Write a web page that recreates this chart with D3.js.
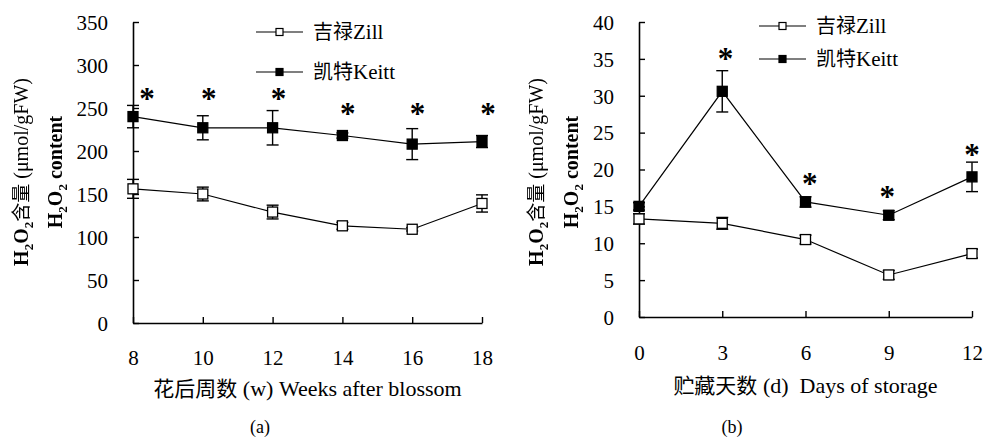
<!DOCTYPE html>
<html>
<head>
<meta charset="utf-8">
<script src="https://cdn.jsdelivr.net/npm/d3@7"></script>
<style>
  html, body { margin: 0; padding: 0; background: #fff; }
  svg { display: block; }
  text { font-family: "Liberation Serif", "Times New Roman", serif; fill: #000; white-space: pre; }
  .cjk { font-family: "Noto Sans CJK SC", sans-serif; }
  .rot { filter: grayscale(100%); }
</style>
</head>
<body>
<svg id="chart" width="986" height="437"></svg>
<script>
// ---------- Data ----------
const seriesNames = ["吉禄Zill", "凯特Keitt"];

// Panel (a): weeks after blossom
const weeks = [8, 10, 12, 14, 16, 18];
const zillA = [156, 150, 129, 113, 109, 139];
const zillAErr = [11, 8, 8, 4, 2, 10];
const keittA = [240, 227, 227, 218, 208, 211];
const keittAErr = [13, 14, 20, 3, 18, 7];
const starXA = [8.4, 10.17, 12.17, 14.15, 16.15, 18.17];
const starYA = [263, 263, 263, 245, 245, 245];
const yTicksA = [0, 50, 100, 150, 200, 250, 300, 350];

// Panel (b): days of storage
const days = [0, 3, 6, 9, 12];
const zillB = [13.3, 12.7, 10.5, 5.7, 8.6];
const zillBErr = [0.7, 0.8, 0.6, 0.6, 0.6];
const keittB = [15.0, 30.6, 15.6, 13.8, 19.0];
const keittBErr = [0.5, 2.8, 0.7, 0.6, 2.0];
const starXB = [3.12, 6.15, 8.95, 12.0];
const starYB = [35.3, 18.3, 16.5, 22.3];
const yTicksB = [0, 5, 10, 15, 20, 25, 30, 35, 40];

const svg = d3.select("#chart");

function panel(cfg) {
  const g = svg.append("g");
  const x = d3.scaleLinear().domain(cfg.xDomain).range(cfg.xRange);
  const y = d3.scaleLinear().domain(cfg.yDomain).range(cfg.yRange);

  // axes (ticks inward)
  const xAxis = d3.axisBottom(x).tickValues(cfg.xTicks).tickSize(-6).tickSizeOuter(0).tickFormat(d3.format("d"));
  const yAxis = d3.axisLeft(y).tickValues(cfg.yTicks).tickSize(-6).tickSizeOuter(0).tickFormat(d3.format("d"));

  const gx = g.append("g").attr("transform", `translate(0,${cfg.yRange[0]})`).call(xAxis);
  const gy = g.append("g").attr("transform", `translate(${cfg.xRange[0]},0)`).call(yAxis);
  [gx, gy].forEach(a => {
    a.attr("font-family", null).attr("font-size", null);
    a.select(".domain").attr("stroke", "#000").attr("stroke-width", 1.6);
    a.selectAll(".tick line").attr("stroke", "#000").attr("stroke-width", 1.4);
    a.selectAll(".tick text").attr("font-size", 21).attr("fill", "#000");
  });
  gx.selectAll(".tick text").attr("y", cfg.xLabelDy).attr("dy", "0.35em");
  gy.selectAll(".tick text").attr("x", -25).attr("dy", "0.35em");

  const line = d3.line().x(d => x(d.x)).y(d => y(d.y));

  cfg.series.forEach(s => {
    const pts = s.values.map((v, i) => ({ x: cfg.xs[i], y: v, e: s.errs[i] }));
    g.append("path").datum(pts).attr("d", line)
      .attr("fill", "none").attr("stroke", "#000").attr("stroke-width", 1.2);
    const eb = g.append("g").attr("stroke", "#000").attr("stroke-width", 1.4);
    eb.selectAll("line.v").data(pts).join("line").attr("class", "v")
      .attr("x1", d => x(d.x)).attr("x2", d => x(d.x))
      .attr("y1", d => y(d.y + d.e)).attr("y2", d => y(d.y - d.e));
    eb.selectAll("line.t").data(pts).join("line").attr("class", "t")
      .attr("x1", d => x(d.x) - 6).attr("x2", d => x(d.x) + 6)
      .attr("y1", d => y(d.y + d.e)).attr("y2", d => y(d.y + d.e));
    eb.selectAll("line.b").data(pts).join("line").attr("class", "b")
      .attr("x1", d => x(d.x) - 6).attr("x2", d => x(d.x) + 6)
      .attr("y1", d => y(d.y - d.e)).attr("y2", d => y(d.y - d.e));
    g.selectAll(null).data(pts).join("rect")
      .attr("x", d => x(d.x) - 5).attr("y", d => y(d.y) - 5)
      .attr("width", 10).attr("height", 10)
      .attr("fill", s.filled ? "#000" : "#fff")
      .attr("stroke", "#000").attr("stroke-width", 1.3);
  });

  // significance stars
  g.selectAll(null).data(cfg.starX.map((sx, i) => ({ x: sx, y: cfg.starY[i] }))).join("text")
    .attr("x", d => x(d.x)).attr("y", d => y(d.y) + 12)
    .attr("text-anchor", "middle")
    .attr("font-weight", "bold").attr("font-size", 31)
    .text("*");

  // legend
  cfg.series.forEach((s, i) => {
    const ly = cfg.legend.y + i * cfg.legend.dy;
    const lx = cfg.legend.x;
    g.append("line").attr("x1", lx).attr("x2", lx + 47).attr("y1", ly).attr("y2", ly)
      .attr("stroke", "#000").attr("stroke-width", 1.2);
    g.append("rect").attr("x", lx + 20).attr("y", ly - 3.5).attr("width", 7).attr("height", 7)
      .attr("fill", s.filled ? "#000" : "#fff").attr("stroke", "#000").attr("stroke-width", 1.2);
    const t = g.append("text").attr("x", lx + 57).attr("y", ly).attr("dy", "0.35em").attr("font-size", 21);
    t.append("tspan").attr("class", "cjk").attr("font-size", 20).text(s.name.replace(/[A-Za-z]+/, ""));
    t.append("tspan").text(s.name.match(/[A-Za-z]+/)[0]);
  });

  // y title (two lines, rotated)
  const yt1 = g.append("text").attr("class", "rot").attr("transform", `translate(${cfg.yTitleX[0]},${cfg.yTitleY}) rotate(-90)`)
    .attr("text-anchor", "middle").attr("dy", "0.35em").attr("font-size", 20);
  yt1.append("tspan").attr("font-weight", "bold").text("H");
  yt1.append("tspan").attr("font-weight", "bold").attr("font-size", 13).attr("dy", 5).text("2");
  yt1.append("tspan").attr("font-weight", "bold").attr("dy", -5).text("O");
  yt1.append("tspan").attr("font-weight", "bold").attr("font-size", 13).attr("dy", 5).text("2");
  yt1.append("tspan").attr("class", "cjk").attr("font-size", 19).attr("dy", -5).text("含量");
  yt1.append("tspan").text(" (μmol/gFW)");

  const yt2 = g.append("text").attr("class", "rot").attr("transform", `translate(${cfg.yTitleX[1]},${cfg.yTitleY}) rotate(-90)`)
    .attr("text-anchor", "middle").attr("dy", "0.35em").attr("font-size", 20).attr("font-weight", "bold");
  yt2.append("tspan").text("H");
  yt2.append("tspan").attr("font-size", 13).attr("dy", 5).text("2");
  yt2.append("tspan").attr("dy", -5).text("O");
  yt2.append("tspan").attr("font-size", 13).attr("dy", 5).text("2");
  yt2.append("tspan").attr("dy", -5).text(" content");

  // x title
  const xt = g.append("text").attr("x", (cfg.xRange[0] + cfg.xRange[1]) / 2).attr("y", cfg.xTitleY)
    .attr("text-anchor", "middle").attr("dy", "0.35em").attr("font-size", 22);
  xt.append("tspan").attr("class", "cjk").attr("font-size", 21).text(cfg.xTitleCn);
  xt.append("tspan").text(cfg.xTitleEn);

  // panel label
  g.append("text").attr("x", cfg.panelLabelX).attr("y", 427).attr("dy", "0.35em")
    .attr("text-anchor", "middle").attr("font-size", 18).text(cfg.panelLabel);
}

panel({
  xs: weeks, xDomain: [8, 18], xRange: [133, 482], xTicks: weeks,
  yDomain: [0, 350], yRange: [323, 22], yTicks: yTicksA,
  xLabelDy: 35,
  series: [
    { name: seriesNames[0], values: zillA, errs: zillAErr, filled: false },
    { name: seriesNames[1], values: keittA, errs: keittAErr, filled: true }
  ],
  starX: starXA, starY: starYA,
  legend: { x: 256, y: 32, dy: 40 },
  yTitleX: [21, 55], yTitleY: 172,
  xTitleY: 388, xTitleCn: "花后周数", xTitleEn: " (w) Weeks after blossom",
  panelLabel: "(a)", panelLabelX: 260
});

panel({
  xs: days, xDomain: [0, 12], xRange: [639, 972], xTicks: days,
  yDomain: [0, 40], yRange: [317, 22], yTicks: yTicksB,
  xLabelDy: 36,
  series: [
    { name: seriesNames[0], values: zillB, errs: zillBErr, filled: false },
    { name: seriesNames[1], values: keittB, errs: keittBErr, filled: true }
  ],
  starX: starXB, starY: starYB,
  legend: { x: 759, y: 26, dy: 33 },
  yTitleX: [536, 571], yTitleY: 172,
  xTitleY: 385, xTitleCn: "贮藏天数", xTitleEn: " (d)  Days of storage",
  panelLabel: "(b)", panelLabelX: 732
});
</script>
</body>
</html>
